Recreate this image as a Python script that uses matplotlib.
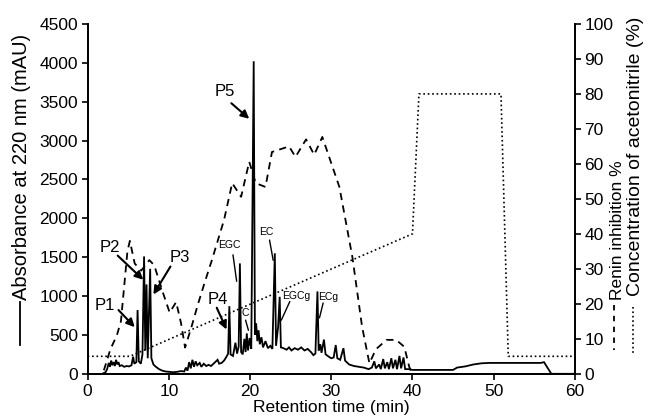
import matplotlib
matplotlib.use("Agg")
import matplotlib.pyplot as plt
from matplotlib.lines import Line2D

plt.rcParams['font.family'] = ['Liberation Sans', 'DejaVu Sans']

# chromatogram, absorbance at 220 nm (mAU)
time_abs = [1.8, 2.2, 2.4, 2.6, 2.75, 2.9, 3.05, 3.2, 3.35, 3.5, 3.65, 3.8, 3.95, 4.2, 4.5, 4.8,
            5.1, 5.4, 5.6, 5.75, 6.0, 6.15, 6.3, 6.55, 6.75, 6.95, 7.1, 7.25, 7.4, 7.7, 7.85,
            8.1, 8.4, 8.8, 9.2, 9.6, 10.0, 10.5, 11.0, 11.5, 11.9, 12.1, 12.3, 12.5, 12.7, 12.9,
            13.1, 13.3, 13.5, 13.8, 14.0, 14.3, 14.6, 14.9, 15.2, 15.5, 15.8, 16.0, 16.2, 16.5,
            16.8, 17.1, 17.3, 17.45, 17.6, 17.9, 18.2, 18.4, 18.6, 18.75, 18.9, 19.1, 19.3,
            19.45, 19.6, 19.75, 19.95, 20.15, 20.45, 20.6, 20.75, 20.9, 21.05, 21.2, 21.4, 21.6,
            21.9, 22.2, 22.5, 22.75, 23.05, 23.2, 23.45, 23.65, 23.8, 24.1, 24.5, 24.8, 25.1,
            25.5, 25.9, 26.3, 26.7, 27.1, 27.5, 27.8, 28.05, 28.3, 28.45, 28.65, 28.8, 29.1,
            29.3, 29.7, 30.0, 30.3, 30.55, 30.75, 31.1, 31.5, 31.7, 32.2, 32.8, 33.4, 34.0,
            34.6, 35.0, 35.3, 35.5, 35.9, 36.1, 36.4, 36.6, 36.9, 37.1, 37.4, 37.6, 37.9, 38.1,
            38.4, 38.6, 38.9, 39.1, 39.5, 40.0, 45.0, 45.5, 46.5, 47.5, 48.5, 49.5, 55.8, 56.2,
            57.1, 60.0]
absorbance = [0, 20, 60, 140, 90, 170, 110, 150, 100, 180, 120, 150, 100, 110, 90, 100,
              95, 110, 220, 130, 150, 820, 160, 130, 250, 1510, 300, 1150, 200, 1350, 200,
              120, 90, 60, 40, 30, 25, 20, 25, 35, 30, 80, 40, 150, 70, 180,
              90, 160, 110, 140, 90, 130, 100, 115, 100, 130, 160, 180, 130, 140,
              170, 220, 260, 870, 250, 230, 400, 260, 350, 1420, 280, 250, 450,
              280, 520, 300, 460, 320, 4020, 500, 650, 420, 560, 380, 470, 340,
              420, 330, 360, 320, 1550, 360, 600, 990, 340, 330, 310, 340, 300,
              330, 310, 340, 300, 320, 280, 240, 260, 1060, 300, 380, 270, 440,
              250, 220, 200, 210, 370, 200, 180, 330, 170, 120, 100, 90, 80,
              60, 80, 160, 70, 120, 60, 190, 70, 150, 60, 200, 70, 180, 60,
              230, 70, 210, 60, 60, 50, 50, 80, 95, 120, 135, 140, 140, 150,
              0, 0]

# renin inhibition (%)
time_renin = [2.0, 2.8, 3.6, 4.1, 4.5, 4.9, 5.2, 5.8, 6.6, 7.6, 8.2, 9.3, 10.1, 10.9, 11.5,
              12.0, 12.8, 13.6, 14.4, 15.3, 16.8, 17.8, 18.9, 19.9, 20.7, 21.9, 22.7, 24.8,
              25.6, 26.9, 27.9, 28.9, 31.0, 32.6, 33.8, 34.7, 35.5, 36.8, 38.0, 39.0, 39.6, 40.0]
renin = [1, 7, 11, 15, 25, 35, 38, 31.5, 29.5, 32.5, 31, 23, 17.5, 20.5, 14.5,
         7.5, 13.5, 20, 26, 32.5, 44, 54.5, 50.6, 60.6, 54.5, 53.4, 63.4, 65,
         62, 67, 62.6, 67.7, 53.4, 33.4, 13.4, 3, 7, 9.7, 9.7, 7.7, 2, 0]

# acetonitrile gradient (%)
time_acn = [0, 5.2, 40, 40.8, 50.9, 51.8, 60]
acn = [5, 5, 40, 80, 80, 5, 5]

# peak labels: text, text position, arrow tail, arrow head
peak_labels = ['P1', 'P2', 'P3', 'P4', 'P5']
peak_text = [(2.1, 880), (2.7, 1620), (11.3, 1500), (16.0, 960), (16.9, 3630)]
peak_tail = [(3.8, 820), (3.7, 1520), (10.2, 1380), (15.9, 850), (17.7, 3480)]
peak_head = [(5.8, 600), (6.85, 1210), (8.1, 1020), (17.1, 570), (19.9, 3280)]

cmp_labels = ['EGC', 'C', 'EC', 'EGCg', 'ECg']
cmp_text = [(17.5, 1660), (19.4, 780), (22.0, 1820), (25.7, 995), (29.6, 985)]
cmp_tail = [(17.9, 1530), (19.45, 690), (22.4, 1720), (24.9, 930), (29.0, 910)]
cmp_head = [(18.35, 1190), (19.8, 560), (22.85, 1460), (23.85, 690), (28.55, 720)]

fig = plt.figure(figsize=(6.54, 4.2), dpi=100)
ax = fig.add_axes([0.134, 0.110, 0.745, 0.833])
ax2 = ax.twinx()

ax.plot(time_abs, absorbance, color='black', lw=1.3, solid_joinstyle='miter')
ax2.plot(time_renin, renin, color='black', lw=1.3, linestyle=(0, (4, 3)))
ax2.plot(time_acn, acn, color='black', lw=1.2, linestyle=':')

ax.set_xlim(0, 60)
ax.set_ylim(0, 4500)
ax2.set_ylim(0, 100)
ax.set_xticks(range(0, 61, 10))
ax.set_yticks(range(0, 4501, 500))
ax2.set_yticks(range(0, 101, 10))

for a in (ax, ax2):
    a.spines['top'].set_visible(False)
    for s in a.spines.values():
        s.set_linewidth(1.3)
    a.tick_params(length=4, width=1.2, labelsize=12.5, pad=3)

ax.set_xlabel('Retention time (min)', fontsize=12.5, labelpad=1)

for lab, tp, tl, hd in zip(peak_labels, peak_text, peak_tail, peak_head):
    ax.text(tp[0], tp[1], lab, fontsize=12, ha='center', va='center')
    ax.annotate('', xy=hd, xytext=tl,
                arrowprops=dict(arrowstyle='-|>', color='black', lw=1.5, mutation_scale=12,
                                shrinkA=0, shrinkB=0))

for lab, tp, tl, hd in zip(cmp_labels, cmp_text, cmp_tail, cmp_head):
    ax.text(tp[0], tp[1], lab, fontsize=7.5, ha='center', va='center')
    ax.annotate('', xy=hd, xytext=tl,
                arrowprops=dict(arrowstyle='-', color='black', lw=1.0, shrinkA=0, shrinkB=0))

# axis titles with line keys
fig.text(22 / 654, 1 - 300 / 420, 'Absorbance at 220 nm (mAU)', rotation=90,
         ha='center', va='bottom', fontsize=14.5)
fig.add_artist(Line2D([20 / 654, 20 / 654], [1 - 302 / 420, 1 - 345 / 420], color='black', lw=1.3))

fig.text(617 / 654, 1 - 300 / 420, 'Renin inhibition %', rotation=90,
         ha='center', va='bottom', fontsize=12.5)
fig.add_artist(Line2D([614 / 654, 614 / 654], [1 - 305 / 420, 1 - 350 / 420], color='black',
                      lw=1.3, linestyle=(0, (3, 3))))

fig.text(636 / 654, 1 - 296 / 420, 'Concentration of acetonitrile (%)', rotation=90,
         ha='center', va='bottom', fontsize=14)
fig.add_artist(Line2D([633 / 654, 633 / 654], [1 - 307 / 420, 1 - 355 / 420], color='black',
                      lw=1.2, linestyle=':'))

fig.savefig('out.png', dpi=100, facecolor='w')
